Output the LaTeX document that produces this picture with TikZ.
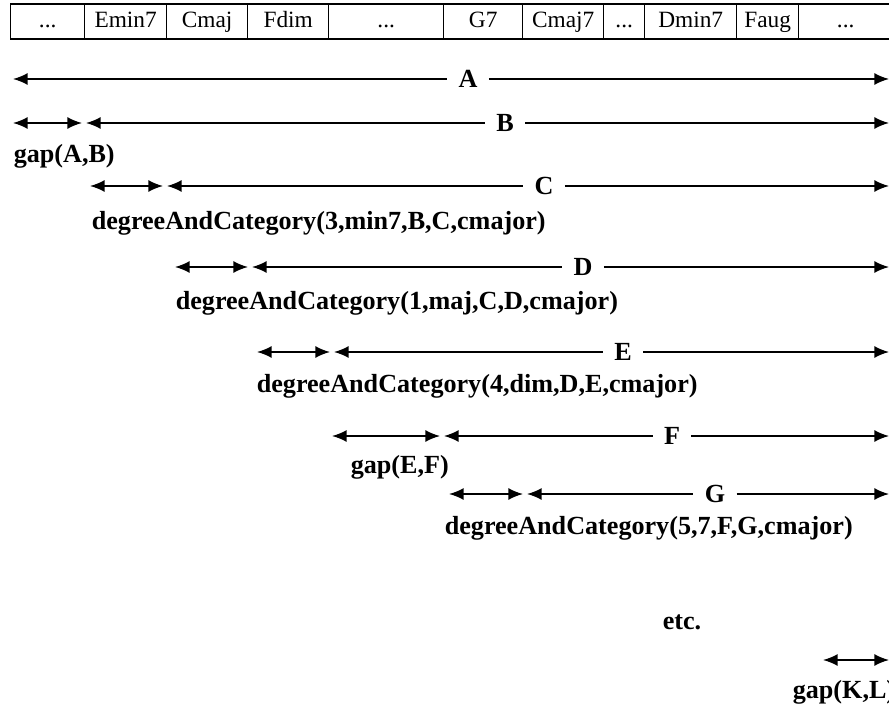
\documentclass[tikz,border=0pt]{standalone}
\usepackage{fontspec}
\setmainfont{Liberation Serif}
\usetikzlibrary{arrows.meta}
\newcommand\skipdots{...}

\begin{document}
\begin{tikzpicture}[x=0.75pt,y=-0.75pt,>={Latex[length=11pt,width=9pt]},line width=1.2pt,
  cell/.style={draw,line width=1pt,anchor=west,inner sep=0pt,minimum height=26.25pt,
    text height=12pt,text depth=3.5pt,font=\fontsize{17.5}{20}\selectfont},
  tag/.style={font=\bfseries\fontsize{19.6}{22}\selectfont,inner sep=0pt},
  span/.style={tag,fill=white,inner xsep=8pt}]
  \useasboundingbox (0,0) rectangle (889,706);
  \clip (0,0) rectangle (889,706);
  % chord sequence
  \foreach \l/\r/\c [count=\i] in {10/84/\skipdots,84/166/Emin7,166/247/Cmaj,247/328/Fdim,
      328/443/\skipdots,443/522/G7,522/603/Cmaj7,603/644/\skipdots,644/736/Dmin7,
      736/798/Faug,798/892/\skipdots}
    \node[cell,minimum width={(\r-\l)*0.75pt}] (ch\i) at (\l,21.5) {\c};
  % whole sequence
  \coordinate (A0) at (13,79);
  \coordinate (A1) at (889,79);
  \node[span] (A) at (468,79) {A};
  \draw[<-] (A0) -- (A);
  \draw[->] (A) -- (A1);
  % one step per row
  \foreach \n/\y/\s/\m/\lx/\tx/\ty/\t in {
      B/123/13/82/505/13/163/{gap(A,B)},
      C/186/90/163/544/91/229/{degreeAndCategory(3,min7,B,C,cmajor)},
      D/267/175/248/583/175/309/{degreeAndCategory(1,maj,C,D,cmajor)},
      E/352/257/330/623/256/392/{degreeAndCategory(4,dim,D,E,cmajor)},
      F/436/332/440/672/350/473/{gap(E,F)},
      G/494/449/523/715/444/534/{degreeAndCategory(5,7,F,G,cmajor)}}
  {
    \coordinate (\n0) at (\s,\y);
    \coordinate (\n1) at (\m,\y);
    \coordinate (\n2) at (\m+4,\y);
    \coordinate (\n3) at (889,\y);
    \node[span] (\n) at (\lx,\y) {\n};
    \draw[<->] (\n0) -- (\n1);
    \draw[<-] (\n2) -- (\n);
    \draw[->] (\n) -- (\n3);
    \node[tag,anchor=base west] (t\n) at (\tx,\ty) {\t};
  }
  \node[tag] (etc) at (682,622) {etc.};
  % last gap
  \coordinate (K0) at (823,660);
  \coordinate (K1) at (889,660);
  \draw[<->] (K0) -- (K1);
  \node[tag,anchor=base west] (tK) at (792,698) {gap(K,L)};
\end{tikzpicture}
\end{document}
